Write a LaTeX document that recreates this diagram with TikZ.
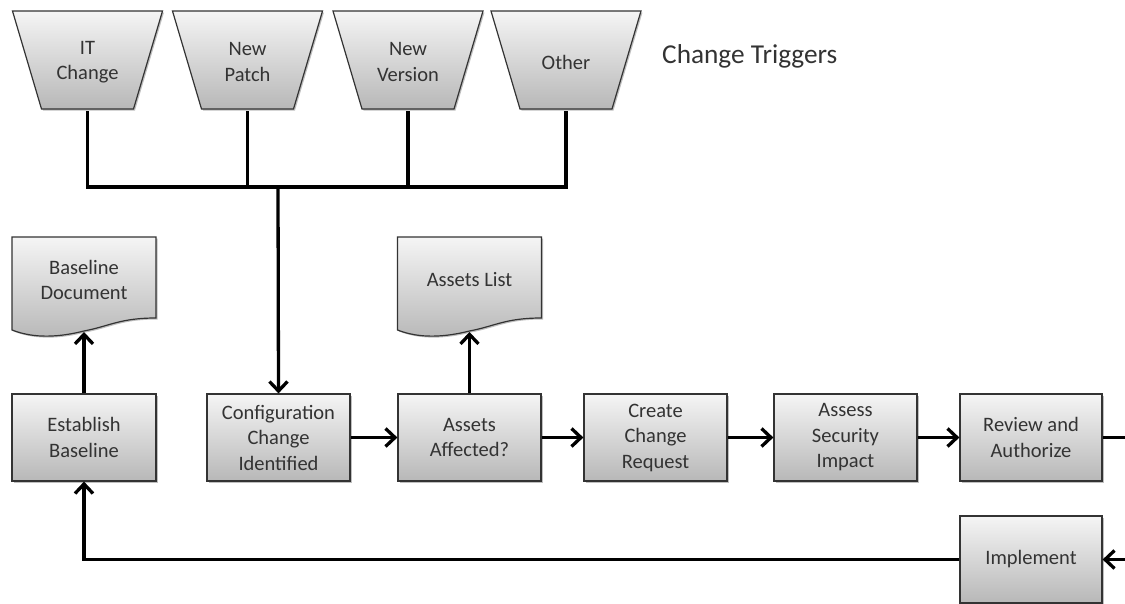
\documentclass[tikz,border=0pt]{standalone}
\usepackage{fontspec}
\setmainfont{Carlito}
\usetikzlibrary{arrows.meta,shadows}
\begin{document}
\begin{tikzpicture}[x=1pt,y=-1pt,
  shapefill/.style={draw=black!80, line width=1.2pt, top color=black!4, bottom color=black!28,
    drop shadow={shadow xshift=1.5pt,shadow yshift=-1.5pt,opacity=0.25,fill=black}},
  procbox/.style={shapefill, rectangle, minimum width=143pt, minimum height=87pt, inner sep=0pt,
    align=center, font=\fontsize{20.5}{25.5}\selectfont, text=black!80},
  txt/.style={draw=none, inner sep=0pt, align=center, font=\fontsize{20.5}{25.5}\selectfont, text=black!80},
  trapnode/.style={txt, minimum width=150pt, minimum height=98pt},
  docnode/.style={txt, minimum width=144pt, minimum height=84pt},
  conn/.style={line width=3.3pt, draw=black, line join=miter},
  flow/.style={conn, -{Straight Barb[length=9.5pt,width=18pt]}}
]
\useasboundingbox (0,0) rectangle (1125,603);

% trapezoids (change triggers)
\foreach \cx in {87.5,247.5,408,566}{
  \path[shapefill] (\cx-75,11) -- (\cx+75,11) -- (\cx+46,109) -- (\cx-46,109) -- cycle;
}
\node[trapnode] (t1) at (87.5,62) {IT\\Change};
\node[trapnode] (t2) at (247.5,62) {New\\Patch};
\node[trapnode] (t3) at (408,62) {New\\Version};
\node[trapnode] (t4) at (566,62) {Other};
\node[anchor=base west, inner sep=0pt, font=\fontsize{27.3}{32}\selectfont, text=black!80] (trig) at (662,63) {Change Triggers};

% documents
\newcommand\docpath[2]{(#1,#2) -- (#1+144,#2) -- (#1+144,#2+81)
  .. controls (#1+108,#2+81) and (#1+98,#2+89) .. (#1+72,#2+94)
  .. controls (#1+48,#2+100) and (#1+23,#2+102) .. (#1,#2+93) -- cycle}
\path[shapefill] \docpath{12}{237};
\path[shapefill] \docpath{397.5}{237};
\node[docnode] (bdoc) at (84,280) {Baseline\\Document};
\node[docnode] (alist) at (469.5,280) {Assets List};
\coordinate (bdocb) at (84,332);
\coordinate (alistb) at (469.5,332);

% process boxes
\node[procbox, minimum width=144pt] (estab) at (84,437.5) {Establish\\Baseline};
\node[procbox] (config) at (278.5,437.5) {Configuration\\Change\\Identified};
\node[procbox] (aff) at (469.5,437.5) {Assets\\Affected?};
\node[procbox] (create) at (655.5,437.5) {Create\\Change\\Request};
\node[procbox] (assess) at (845.5,437.5) {Assess\\Security\\Impact};
\node[procbox, minimum width=142pt] (review) at (1031,437.5) {Review and\\Authorize};
\node[procbox, minimum width=142pt] (impl) at (1031,559.5) {Implement};

% connectors
\coordinate (bus) at (278,187);
\draw[conn] (t1.south) |- (bus) -| (t4.south);
\draw[conn] (t2.south) -- (t2.south |- bus);
\draw[conn] (t3.south) -- (t3.south |- bus);
\draw[flow] (bus) -- (config.north);
\draw[flow] (estab.north) -- (bdocb);
\draw[flow] (aff.north) -- (alistb);
\draw[flow] (config.east) -- (aff.west);
\draw[flow] (aff.east) -- (create.west);
\draw[flow] (create.east) -- (assess.west);
\draw[flow] (assess.east) -- (review.west);
\coordinate (rout) at (1126,437.5);
\coordinate (rin) at (1126,559.5);
\draw[conn] (review.east) -- (rout);
\draw[flow] (rin) -- (impl.east);
\draw[flow] (impl.west) -| (estab.south);
\end{tikzpicture}
\end{document}
